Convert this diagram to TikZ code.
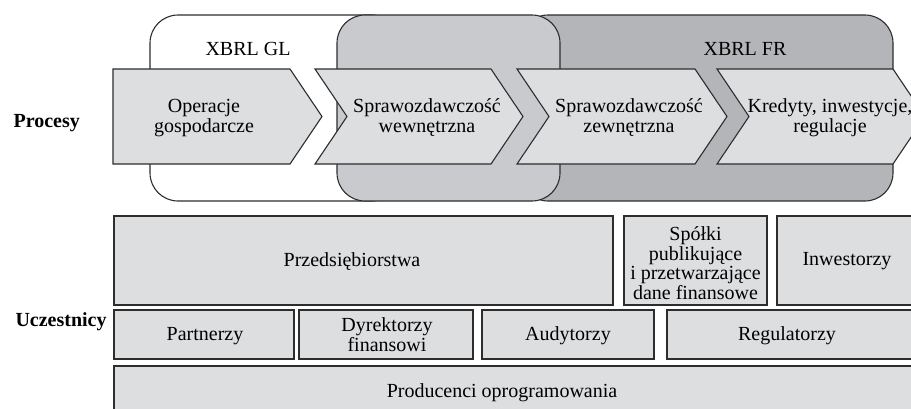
\documentclass[tikz,border=0pt]{standalone}
\usepackage{fontspec}
\setmainfont{Liberation Serif}
\definecolor{boxfill}{RGB}{221,222,224}
\definecolor{glfill}{RGB}{201,202,205}
\definecolor{frfill}{RGB}{180,181,184}
\definecolor{edge}{RGB}{45,45,45}
\begin{document}
\begin{tikzpicture}[x=1pt,y=-1pt,line width=1.1pt,font=\fontsize{20}{20}\selectfont,
	zone/.style={draw=edge,rounded corners=28pt},
	chev/.style={draw=edge,fill=boxfill,line join=miter},
	box/.style={draw=edge,fill=boxfill},
	lab/.style={align=center,inner sep=0pt}]
				\useasboundingbox (0,0) rectangle (911,408);
				\clip (0,0) rectangle (911,408);
				\draw[zone,fill=white] (150,15) rectangle (400,201);
				\draw[zone,fill=frfill] (520,15) rectangle (893,201);
				\draw[zone,fill=glfill] (337,15) rectangle (560,201);
				\node[lab] (gl) at (248,48.5) {XBRL GL};
				\node[lab] (fr) at (745,48.5) {XBRL FR};
				\draw[chev] (113,69)--(290,69)--(322,116.5)--(290,164)--(113,164)--cycle;
				\draw[chev] (315,69)--(491,69)--(523,116.5)--(491,164)--(315,164)--(347,116.5)--cycle;
				\draw[chev] (517,69)--(695,69)--(727,116.5)--(695,164)--(517,164)--(549,116.5)--cycle;
				\draw[chev] (717,69)--(893,69)--(925,116.5)--(893,164)--(717,164)--(749,116.5)--cycle;
				\node[lab] (oper) at (204,118) {Operacje\\gospodarcze};
				\node[lab] (wewn) at (427,118) {Sprawozdawczość\\wewnętrzna};
				\node[lab] (zewn) at (629,118) {Sprawozdawczość\\zewnętrzna};
				\node[lab] (kred) at (830,118) {Kredyty, inwestycje,\\regulacje};
				\node[lab,anchor=west,font=\fontsize{20}{20}\selectfont\bfseries] (proc) at (13,123.5) {Procesy};
				\draw[box] (114,216) rectangle (613,305);
				\draw[box] (624,216) rectangle (767,305);
				\draw[box] (777,216) rectangle (920,305);
				\draw[box] (114,310) rectangle (294,359);
				\draw[box] (299,310) rectangle (473,359);
				\draw[box] (482,310) rectangle (654,359);
				\draw[box] (667,310) rectangle (912,359);
				\draw[box] (114,366) rectangle (920,416);
				\node[lab] (przed) at (352,261.5) {Przedsiębiorstwa};
				\node[lab,font=\fontsize{20}{19.5}\selectfont] (spolki) at (695.5,263) {Spółki\\publikujące\\i przetwarzające\\dane finansowe};
				\node[lab] (inw) at (847,261.5) {Inwestorzy};
				\node[lab] (part) at (205,336) {Partnerzy};
				\node[lab] (dyr) at (387,335) {Dyrektorzy\\finansowi};
				\node[lab] (aud) at (568,336) {Audytorzy};
				\node[lab] (reg) at (787,336) {Regulatorzy};
				\node[lab] (prod) at (502,392.5) {Producenci oprogramowania};
				\node[lab,anchor=west,font=\fontsize{20}{20}\selectfont\bfseries] (ucz) at (15,321.5) {Uczestnicy};
\end{tikzpicture}
\end{document}
